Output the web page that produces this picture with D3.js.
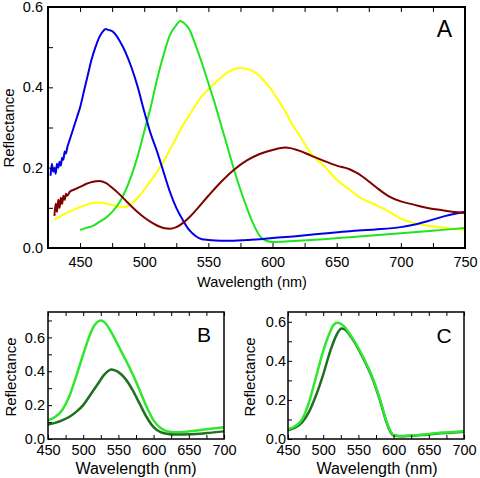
<!DOCTYPE html>
<html><head><meta charset="utf-8">
<script src="https://cdn.jsdelivr.net/npm/d3@7"></script>
<style>html,body{margin:0;padding:0;background:#fff}svg{display:block}</style>
</head><body>
<svg id="c" width="480" height="478"></svg>
<script>
// ---------- Panel A data ----------
const aBlueWl = [427,428,429,430,431,432,433,434,435,436,437,438,439,440,442,444,446,448,450,453,456,459,462,465,468,470,472,475,478,481,485,490,495,500,505,510,515,520,525,530,535,540,545,550,560,570,580,590,600,620,640,660,680,700,710,720,735,750];
const aBlue   = [0.18,0.21,0.19,0.2,0.185,0.21,0.2,0.215,0.205,0.225,0.22,0.24,0.235,0.25,0.27,0.29,0.31,0.33,0.35,0.39,0.43,0.47,0.5,0.525,0.54,0.545,0.543,0.54,0.53,0.515,0.49,0.45,0.4,0.34,0.285,0.24,0.19,0.14,0.1,0.07,0.045,0.03,0.022,0.02,0.018,0.018,0.02,0.022,0.025,0.03,0.036,0.042,0.046,0.052,0.058,0.066,0.08,0.09];
const aGreenWl = [450,455,460,465,470,475,480,485,490,495,500,505,510,515,520,525,528,531,535,540,545,550,555,560,565,570,575,580,585,590,595,600,610,620,640,660,680,700,720,740,750];
const aGreen   = [0.045,0.05,0.055,0.065,0.075,0.09,0.11,0.14,0.18,0.23,0.29,0.35,0.42,0.48,0.53,0.555,0.565,0.56,0.545,0.505,0.46,0.41,0.36,0.305,0.25,0.195,0.145,0.1,0.06,0.03,0.018,0.015,0.016,0.018,0.022,0.027,0.032,0.037,0.042,0.047,0.05];
const aYellowWl = [430,435,440,445,450,455,460,465,470,475,480,485,490,495,500,505,510,515,520,525,530,535,540,545,550,555,560,565,570,575,580,585,590,595,600,605,610,615,620,625,630,640,650,660,670,680,690,700,710,720,730,740,750];
const aYellow   = [0.07,0.08,0.088,0.095,0.102,0.108,0.112,0.113,0.111,0.107,0.103,0.103,0.11,0.125,0.145,0.167,0.19,0.215,0.245,0.275,0.305,0.33,0.355,0.378,0.395,0.41,0.425,0.437,0.445,0.448,0.446,0.44,0.428,0.41,0.39,0.365,0.34,0.31,0.285,0.26,0.235,0.205,0.17,0.145,0.122,0.108,0.092,0.073,0.062,0.056,0.052,0.048,0.045];
const aMaroonWl = [430,431,432,433,434,435,436,437,438,439,440,442,445,450,455,460,465,470,475,480,485,490,495,500,505,510,515,520,525,530,535,540,550,560,570,580,590,600,610,620,630,640,650,660,665,670,680,690,700,710,720,730,740,750];
const aMaroon   = [0.08,0.11,0.09,0.12,0.1,0.125,0.11,0.13,0.12,0.135,0.13,0.14,0.145,0.152,0.16,0.165,0.167,0.162,0.15,0.136,0.12,0.104,0.089,0.076,0.065,0.056,0.05,0.048,0.052,0.062,0.076,0.093,0.13,0.165,0.195,0.218,0.234,0.244,0.25,0.243,0.23,0.217,0.205,0.196,0.188,0.178,0.153,0.13,0.116,0.108,0.1,0.095,0.09,0.087];

// ---------- Panel B data ----------
const bLightWl = [450,460,470,480,490,500,510,515,520,525,530,535,540,550,560,570,580,590,600,610,620,630,640,650,675,700];
const bLight   = [0.11,0.13,0.17,0.25,0.37,0.5,0.62,0.665,0.69,0.70,0.69,0.665,0.63,0.55,0.47,0.385,0.29,0.19,0.11,0.065,0.045,0.04,0.04,0.045,0.057,0.07];
const bDarkWl = [450,460,470,480,490,500,510,520,530,535,540,545,550,560,570,580,590,600,610,620,630,640,650,675,700];
const bDark   = [0.085,0.095,0.11,0.13,0.16,0.2,0.26,0.32,0.38,0.4,0.41,0.405,0.395,0.355,0.29,0.21,0.13,0.07,0.04,0.03,0.027,0.027,0.028,0.035,0.045];

// ---------- Panel C data ----------
const cLightWl = [450,460,470,480,490,500,510,515,520,525,530,540,550,560,570,580,590,595,600,610,620,640,660,680,700];
const cLight   = [0.05,0.065,0.1,0.19,0.32,0.45,0.55,0.585,0.595,0.59,0.575,0.525,0.465,0.395,0.315,0.21,0.09,0.045,0.02,0.015,0.017,0.022,0.03,0.035,0.04];
const cDarkWl = [450,460,470,480,490,500,510,520,526,530,540,550,560,570,580,590,595,600,610,620,640,660,680,700];
const cDark   = [0.045,0.058,0.085,0.14,0.225,0.33,0.45,0.54,0.565,0.562,0.52,0.46,0.39,0.31,0.205,0.085,0.04,0.018,0.014,0.015,0.02,0.027,0.032,0.037];

// ---------- Tick labels ----------
const aXLabels = [450,500,550,600,650,700,750];
const aYLabels = [0.0,0.2,0.4,0.6];
const bcXLabels = [450,500,550,600,650,700];
const bcYLabels = [0.0,0.2,0.4,0.6];

const svg = d3.select("#c");
const FONT = "'Liberation Sans', Arial, sans-serif";

function zip(wl, v){ return wl.map((w,i)=>({x:w,y:v[i]})); }

function panel(cfg){
  const x = d3.scaleLinear().domain(cfg.xd).range([cfg.l, cfg.r]);
  const y = d3.scaleLinear().domain(cfg.yd).range([cfg.b, cfg.t]);
  const g = svg.append("g");
  const xt = d3.range(cfg.xd[0] + ((25 - cfg.xd[0] % 25) % 25), cfg.xd[1] + 0.01, 25);
  const yt = d3.range(0, cfg.yd[1] + 1e-9, 0.1).map(v => +v.toFixed(2));
  const isXL = v => cfg.xl.some(l => Math.abs(l - v) < 1e-6);
  const isYL = v => cfg.yl.some(l => Math.abs(l - v) < 1e-6);

  // curves
  const line = d3.line().x(d=>x(d.x)).y(d=>y(d.y)).curve(d3.curveMonotoneX);
  cfg.series.forEach(s => {
    g.append("path").datum(zip(s.wl, s.v)).attr("d", line)
      .attr("fill","none").attr("stroke", s.c).attr("stroke-width", cfg.lw)
      .attr("stroke-linejoin","round");
  });

  const axB = d3.axisBottom(x).tickValues(xt).tickSize(-cfg.tk).tickPadding(cfg.xpad)
    .tickFormat(v => isXL(v) ? d3.format("d")(v) : "");
  const axT = d3.axisTop(x).tickValues(xt).tickSize(-cfg.tk).tickFormat("");
  const axL = d3.axisLeft(y).tickValues(yt).tickSize(-cfg.tk).tickPadding(cfg.ypad)
    .tickFormat(v => isYL(v) ? d3.format(".1f")(v) : "");
  const style = sel => {
    sel.select(".domain").remove();
    sel.selectAll("line").attr("stroke","#000").attr("stroke-width",1);
    sel.selectAll("text").attr("font-family",FONT).attr("font-size",cfg.fs).attr("fill","#000");
  };
  g.append("g").attr("transform",`translate(0,${cfg.b})`).call(axB).call(style);
  g.append("g").attr("transform",`translate(0,${cfg.t})`).call(axT).call(style);
  g.append("g").attr("transform",`translate(${cfg.l},0)`).call(axL).call(style);

  // frame
  g.append("rect").attr("x",cfg.l).attr("y",cfg.t).attr("width",cfg.r-cfg.l).attr("height",cfg.b-cfg.t)
    .attr("fill","none").attr("stroke","#000").attr("stroke-width",cfg.fw);

  // titles
  g.append("text").attr("x",cfg.xtX).attr("y",cfg.xtY).attr("text-anchor","middle")
    .attr("font-family",FONT).attr("font-size",cfg.tfs).text("Wavelength (nm)");
  g.append("text").attr("transform",`translate(${cfg.ytX},${cfg.ytY}) rotate(-90)`).attr("text-anchor","middle")
    .attr("font-family",FONT).attr("font-size",cfg.yfs).text("Reflectance");
  g.append("text").attr("x",cfg.lbX).attr("y",cfg.lbY).attr("text-anchor","middle")
    .attr("font-family",FONT).attr("font-size",cfg.lbFs).text(cfg.lb);
}

panel({xd:[425,750], yd:[0,0.6], l:48, r:465, t:7, b:248, tk:5, xpad:9, ypad:5, fs:14.5, lw:2, fw:2,
  xl:aXLabels, yl:aYLabels,
  series:[
    {wl:aYellowWl, v:aYellow, c:"#ffff00"},
    {wl:aGreenWl, v:aGreen, c:"#1ee61e"},
    {wl:aBlueWl, v:aBlue, c:"#0000e6"},
    {wl:aMaroonWl, v:aMaroon, c:"#800000"}
  ],
  xtX:252, xtY:287, tfs:14.5, ytX:14, ytY:128, yfs:15, lb:"A", lbX:444.5, lbY:37, lbFs:23});

panel({xd:[450,700], yd:[0,0.75], l:48, r:224, t:312, b:439, tk:4, xpad:6, ypad:3, fs:14.5, lw:2.5, fw:1.5,
  xl:bcXLabels, yl:bcYLabels,
  series:[
    {wl:bLightWl, v:bLight, c:"#2ee82e"},
    {wl:bDarkWl, v:bDark, c:"#1f701f"}
  ],
  xtX:136, xtY:474, tfs:16, ytX:16, ytY:377, yfs:15, lb:"B", lbX:204, lbY:342, lbFs:21});

panel({xd:[450,700], yd:[0,0.65], l:288, r:464, t:312, b:439, tk:4, xpad:6, ypad:2, fs:14.5, lw:2.5, fw:1.5,
  xl:bcXLabels, yl:bcYLabels,
  series:[
    {wl:cDarkWl, v:cDark, c:"#1f701f"},
    {wl:cLightWl, v:cLight, c:"#2ee82e"}
  ],
  xtX:377, xtY:474, tfs:16, ytX:255, ytY:377, yfs:15, lb:"C", lbX:444, lbY:343, lbFs:21});
</script>
</body></html>
